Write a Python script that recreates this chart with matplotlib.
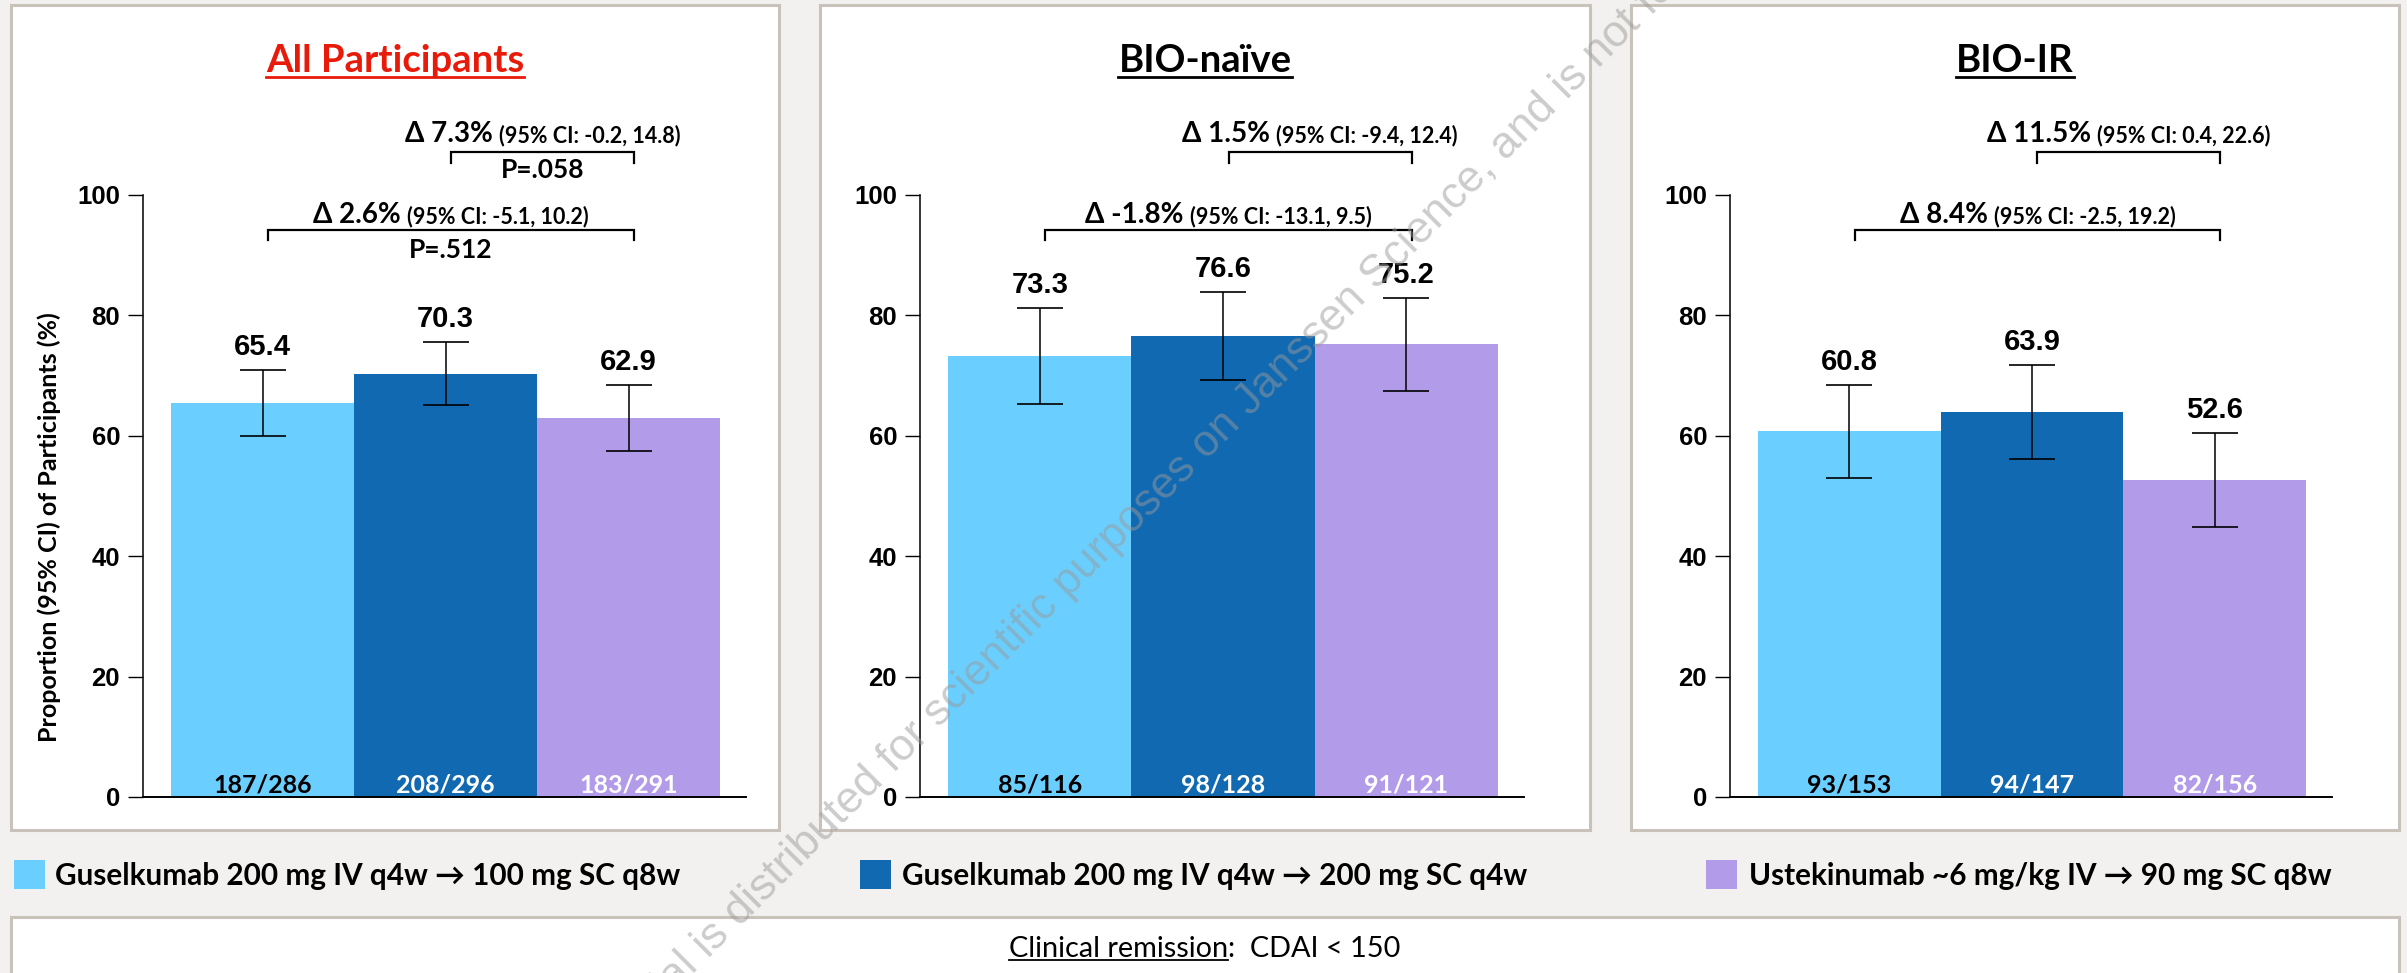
import math
import matplotlib
matplotlib.use('Agg')
import matplotlib.pyplot as plt
from matplotlib.patches import Rectangle
from matplotlib.lines import Line2D

W, H = 2407, 973

groups = ['All Participants', 'BIO-naïve', 'BIO-IR']
title_colors = ['#E81B0B', 'black', 'black']
treatments = ['Guselkumab 200 mg IV q4w → 100 mg SC q8w',
              'Guselkumab 200 mg IV q4w → 200 mg SC q4w',
              'Ustekinumab ~6 mg/kg IV → 90 mg SC q8w']
colors = ['#6ACFFE', '#1069B1', '#B29BE9']
count_colors = ['black', 'white', 'white']

values = [[65.4, 70.3, 62.9], [73.3, 76.6, 75.2], [60.8, 63.9, 52.6]]
err_low = [[59.9, 65.1, 57.4], [65.2, 69.2, 67.5], [53.0, 56.2, 44.8]]
err_high = [[70.9, 75.5, 68.4], [81.3, 83.9, 82.9], [68.5, 71.7, 60.4]]
counts = [['187/286', '208/296', '183/291'],
          ['85/116', '98/128', '91/121'],
          ['93/153', '94/147', '82/156']]

# q4w vs ustekinumab (upper bracket), q8w vs ustekinumab (lower bracket)
delta_top = ['Δ 7.3%', 'Δ 1.5%', 'Δ 11.5%']
ci_top = ['(95% CI: -0.2, 14.8)', '(95% CI: -9.4, 12.4)', '(95% CI: 0.4, 22.6)']
p_top = ['P=.058', '', '']
delta_bot = ['Δ 2.6%', 'Δ -1.8%', 'Δ 8.4%']
ci_bot = ['(95% CI: -5.1, 10.2)', '(95% CI: -13.1, 9.5)', '(95% CI: -2.5, 19.2)']
p_bot = ['P=.512', '', '']

yticks = [0, 20, 40, 60, 80, 100]
ylabel = 'Proportion (95% CI) of Participants (%)'
footer = 'Clinical remission'
footer_rest = ':  CDAI < 150'
watermark = ('This material is distributed for scientific purposes on '
             'Janssen Science, and is not for promotional use')

FONT = ['Lato', 'DejaVu Sans']
NUM = ['Liberation Sans', 'DejaVu Sans']
BG = '#F2F1EF'
EDGE = '#C9C2BA'

fig = plt.figure(figsize=(W / 100, H / 100), dpi=100, facecolor=BG)
renderer = fig.canvas.get_renderer()


def fx(x):
    return x / W


def fy(y):
    return 1 - y / H


def box(x0, y0, x1, y1):
    fig.patches.append(Rectangle((fx(x0), fy(y1)), fx(x1 - x0), (y1 - y0) / H,
                                 transform=fig.transFigure, facecolor='white',
                                 edgecolor=EDGE, lw=2.2, zorder=-5))


def underline(t, gap, lw):
    bb = t.get_window_extent(renderer)
    yb = t.get_position()[1] * H - gap
    fig.add_artist(Line2D([bb.x0 / W, bb.x1 / W], [yb / H, yb / H],
                          color=t.get_color(), lw=lw, transform=fig.transFigure))


def delta_text(ax, xc, y, big, small):
    t1 = ax.text(0, y, big, fontsize=20, fontweight='bold', family=FONT,
                 ha='left', va='baseline', clip_on=False)
    t2 = ax.text(0, y, small, fontsize=15.5, fontweight='bold', family=FONT,
                 ha='left', va='baseline', clip_on=False)
    w1 = t1.get_window_extent(renderer).width
    w2 = t2.get_window_extent(renderer).width
    gap = 6
    pc = ax.transData.transform((xc, y))[0]
    left = pc - (w1 + gap + w2) / 2
    inv = ax.transData.inverted()
    t1.set_x(inv.transform((left, 0))[0])
    t2.set_x(inv.transform((left + w1 + gap, 0))[0])


# panel frames and footer frame
panels = [(11, 5, 779, 830), (820, 5, 1590, 830), (1631, 5, 2399, 830)]
for p in panels:
    box(*p)
box(11, 917, 2399, 990)

axes_x = [(143, 746), (920, 1524), (1730, 2332)]
title_x = [395, 1205, 2015]
y0_px, y100_px = 797, 195
x = [0, 1, 2]

for i, (l, r) in enumerate(axes_x):
    ax = fig.add_axes([fx(l), fy(y0_px), (r - l) / W, (y0_px - y100_px) / H])
    ax.patch.set_alpha(0)
    ax.bar(x, values[i], width=1.0, color=colors, zorder=1)
    ax.errorbar(x, values[i],
                yerr=[[v - lo for v, lo in zip(values[i], err_low[i])],
                      [hi - v for v, hi in zip(values[i], err_high[i])]],
                fmt='none', ecolor='black', elinewidth=1.1, capsize=16.5,
                capthick=1.2, zorder=2)
    ax.set_xlim(-0.653, 2.642)
    ax.set_ylim(0, 100)
    for s in ['top', 'right']:
        ax.spines[s].set_visible(False)
    ax.spines['left'].set_linewidth(1.1)
    ax.spines['bottom'].set_linewidth(1.4)
    ax.set_xticks([])
    ax.set_yticks(yticks)
    ax.tick_params(axis='y', direction='out', length=10.5, width=1.0, pad=6)
    for lab in ax.get_yticklabels():
        lab.set_fontfamily(NUM)
        lab.set_fontweight('bold')
        lab.set_fontsize(18.5)

    for j in x:
        ax.text(j, err_high[i][j] + 2.5, f'{values[i][j]:.1f}', ha='center',
                va='baseline', fontsize=21, fontweight='bold', family=NUM)
        ax.text(j, 0.83, counts[i][j], ha='center', va='baseline', fontsize=18,
                fontweight='bold', family=FONT, color=count_colors[j])

    # comparison brackets
    for (a, b, yl, yt, yd, yp, big, small, pv) in [
            (1, 2, 107.1, 105.3, 108.8, 102.8, delta_top[i], ci_top[i], p_top[i]),
            (0, 2, 94.2, 92.5, 95.3, 89.5, delta_bot[i], ci_bot[i], p_bot[i])]:
        xa, xb = a + 0.03, b + 0.03
        ax.plot([xa, xa, xb, xb], [yt, yl, yl, yt], color='black', lw=1.6,
                clip_on=False, solid_joinstyle='miter')
        delta_text(ax, (xa + xb) / 2, yd, big, small)
        if pv:
            ax.text((xa + xb) / 2, yp, pv, ha='center', va='baseline',
                    fontsize=19, fontweight='bold', family=FONT, clip_on=False)

    t = fig.text(fx(title_x[i]), fy(72), groups[i], ha='center', va='baseline',
                 fontsize=27.5, fontweight='bold', family=FONT, color=title_colors[i])
    underline(t, 5, 2.0)

fig.text(fx(49), fy(527), ylabel, rotation=90, ha='center', va='center',
         fontsize=18, fontweight='bold', family=FONT)

# legend row
sq_x = [14, 860, 1706]
txt_x = [55, 902, 1749]
for k in range(3):
    fig.patches.append(Rectangle((fx(sq_x[k]), fy(889)), 31 / W, 29 / H,
                                 transform=fig.transFigure, facecolor=colors[k],
                                 edgecolor='none'))
    fig.text(fx(txt_x[k]), fy(885), treatments[k], ha='left', va='baseline',
             fontsize=21.4, fontweight='bold', family=FONT)

# footer
t1 = fig.text(0, fy(957), footer, ha='left', va='baseline', fontsize=20.8, family=FONT)
t2 = fig.text(0, fy(957), footer_rest, ha='left', va='baseline', fontsize=20.8, family=FONT)
w1 = t1.get_window_extent(renderer).width
w2 = t2.get_window_extent(renderer).width
left = 1205 - (w1 + w2) / 2
t1.set_x(left / W)
t2.set_x((left + w1) / W)
underline(t1, 3, 1.3)

# watermark, anchored so that "Janssen" starts where it does in the original
wm_pre = watermark[:watermark.index('Janssen')]
tmp = fig.text(0, 0, wm_pre, fontsize=32, family=NUM)
wpre = tmp.get_window_extent(renderer).width
tmp.remove()
ang = 45
sx = 1250 - wpre * math.cos(math.radians(ang))
sy = (H - 417) - wpre * math.sin(math.radians(ang))
fig.text(sx / W, sy / H, watermark, rotation=ang, rotation_mode='anchor',
         ha='left', va='baseline', fontsize=32, family=NUM, color='#9A9A9A',
         alpha=0.5, zorder=20)

fig.savefig('out.png', dpi=100, facecolor=BG)
